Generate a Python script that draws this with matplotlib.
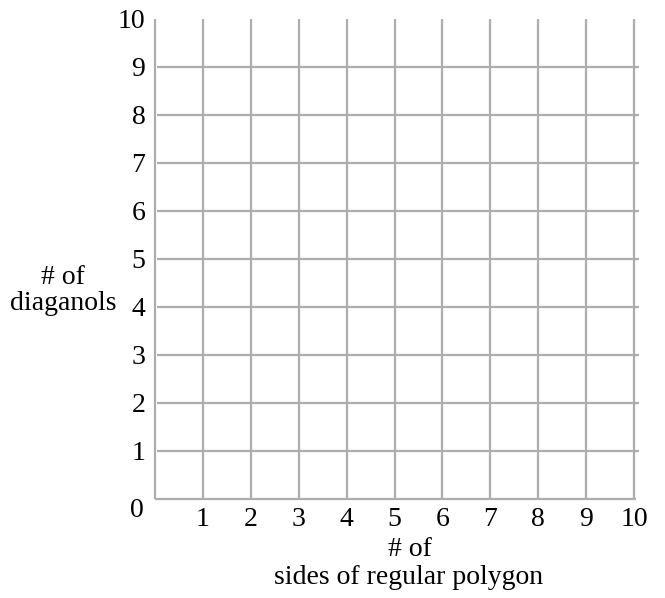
import numpy as np
import matplotlib.pyplot as plt

plt.rcParams['font.family'] = ['Liberation Serif', 'DejaVu Serif']

# grid values
x_ticks = [1, 2, 3, 4, 5, 6, 7, 8, 9, 10]
y_ticks = [1, 2, 3, 4, 5, 6, 7, 8, 9, 10]
v_lines = [0, 1, 2, 3, 4, 5, 6, 7, 8, 9, 10]
h_lines = [0, 1, 2, 3, 4, 5, 6, 7, 8, 9]

W, H = 665, 598
fig = plt.figure(figsize=(W / 100, H / 100), dpi=100)
ax = fig.add_axes([155 / W, (H - 499) / H, (634 - 155) / W, (499 - 18.7) / H])
ax.set_xlim(0, 10)
ax.set_ylim(0, 10)

gcol = '#adadad'
lw = 1.6
ax.vlines(v_lines, 0, 10, colors=gcol, lw=lw, clip_on=False)
ax.hlines(h_lines[1:], 0.05, 10.1, colors=gcol, lw=lw, clip_on=False)
ax.hlines(h_lines[0], 0, 10.05, colors=gcol, lw=lw, clip_on=False)

fs = 20
for s in ax.spines.values():
    s.set_visible(False)
ax.set_xticks(x_ticks)
ax.set_yticks(y_ticks)
ax.tick_params(length=0, labelsize=fs)
ax.tick_params(axis='x', pad=6)
ax.tick_params(axis='y', pad=7)
ax.text(-0.37, -0.23, '0', fontsize=fs, ha='center', va='center', clip_on=False)

fig.text(410 / W, 1 - 550 / H, '# of', fontsize=fs, ha='center', va='center')
fig.text(409 / W, 1 - 578 / H, 'sides of regular polygon', fontsize=fs, ha='center', va='center')
fig.text(63 / W, 1 - 277 / H, '# of', fontsize=fs, ha='center', va='center')
fig.text(63 / W, 1 - 304 / H, 'diaganols', fontsize=fs, ha='center', va='center')

fig.savefig('out.png', dpi=100)
